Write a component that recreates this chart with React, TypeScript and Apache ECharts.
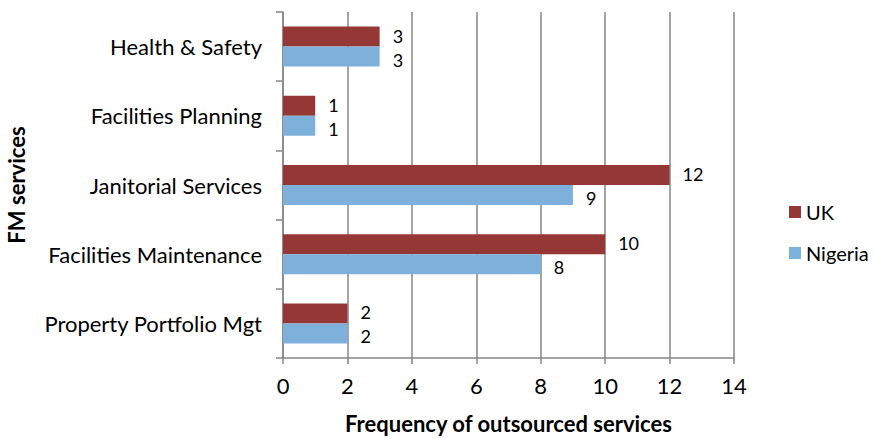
import React, { useEffect, useRef } from "react";
import * as echarts from "echarts";

const categories = [
  "Property Portfolio Mgt",
  "Facilities Maintenance",
  "Janitorial Services",
  "Facilities Planning",
  "Health & Safety",
];
const ukValues = [2, 10, 12, 1, 3];
const nigeriaValues = [2, 8, 9, 1, 3];
const seriesNames = ["UK", "Nigeria"];
const xTicks = [0, 2, 4, 6, 8, 10, 12, 14];

const FONT = "Lato, 'Open Sans', sans-serif";

export default function App() {
  const ref = useRef<HTMLDivElement>(null);
  useEffect(() => {
    if (!ref.current) return;
    const chart = echarts.init(ref.current, undefined, { renderer: "svg" });
    const barLabel = (dy: number) => ({
      show: true,
      position: "right",
      distance: 13,
      offset: [0, dy],
      fontSize: 18,
      lineHeight: 18,
      color: "#000",
      fontFamily: FONT,
    });
    chart.setOption({
      animation: false,
      backgroundColor: "#ffffff",
      textStyle: { fontFamily: FONT },
      grid: { left: 283, right: 139, top: 12, bottom: 81, containLabel: false, outerBoundsMode: "none" },
      legend: {
        orient: "vertical",
        left: 784,
        top: 197,
        itemGap: 21,
        itemWidth: 12,
        itemHeight: 12,
        icon: "rect",
        data: seriesNames,
        textStyle: { fontSize: 20, color: "#000", fontFamily: FONT },
      },
      xAxis: {
        type: "value",
        min: xTicks[0],
        max: xTicks[xTicks.length - 1],
        interval: 2,
        name: "Frequency of outsourced services",
        nameLocation: "middle",
        nameGap: 54,
        nameTextStyle: { fontSize: 22, fontWeight: "bold", color: "#000", fontFamily: FONT },
        axisLine: { show: true, lineStyle: { color: "#868686", width: 1.5 } },
        axisTick: { show: true, length: 6, lineStyle: { color: "#868686", width: 1.5 } },
        axisLabel: { fontSize: 22, color: "#000", margin: 16, fontFamily: FONT },
        splitLine: { show: true, lineStyle: { color: "#868686", width: 1.5 } },
      },
      yAxis: {
        type: "category",
        data: categories,
        name: "FM services",
        nameLocation: "middle",
        nameGap: 256,
        nameRotate: 90,
        nameTextStyle: { fontSize: 22, fontWeight: "bold", color: "#000", fontFamily: FONT },
        axisLine: { show: true, lineStyle: { color: "#868686", width: 1.5 } },
        axisTick: { show: true, length: 7, lineStyle: { color: "#868686", width: 1.5 } },
        axisLabel: { fontSize: 22, color: "#000", margin: 21, fontFamily: FONT },
        splitLine: { show: false },
      },
      series: [
        {
          name: seriesNames[0],
          type: "bar",
          data: ukValues,
          barWidth: 20,
          barGap: "0%",
          itemStyle: { color: "#953735" },
          label: barLabel(-1),
        },
        {
          name: seriesNames[1],
          type: "bar",
          data: nigeriaValues,
          barWidth: 20,
          barGap: "0%",
          itemStyle: { color: "#7eb0dc" },
          label: barLabel(3),
        },
      ],
    });
    return () => chart.dispose();
  }, []);
  return <div ref={ref} style={{ width: 873, height: 439, position: "absolute", left: 0, top: 0 }} />;
}
